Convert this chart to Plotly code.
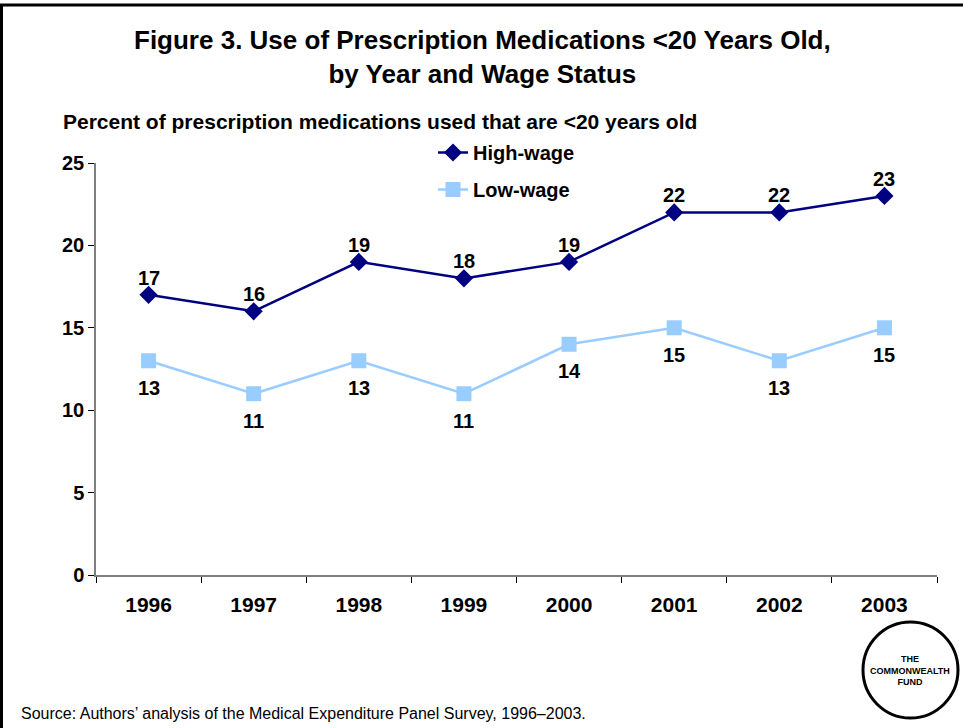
import plotly.graph_objects as go

years = ["1996", "1997", "1998", "1999", "2000", "2001", "2002", "2003"]
high_wage = [17, 16, 19, 18, 19, 22, 22, 23]
low_wage = [13, 11, 13, 11, 14, 15, 13, 15]
y_ticks = [0, 5, 10, 15, 20, 25]

NAVY = "#000080"
LIGHT = "#99CCFF"
FONT = "Liberation Sans, Arial, sans-serif"

# plot area in pixels
L, R, T, B = 96, 937, 163, 575
PW, PH = R - L, B - T


def px(x):
    return (x - L) / PW


def py(y):
    return (B - y) / PH


fig = go.Figure()

fig.add_trace(go.Scatter(
    x=years, y=high_wage, name="High-wage", legendgroup="h",
    mode="lines+markers",
    line=dict(color=NAVY, width=2.5),
    marker=dict(symbol="diamond", size=14, color=NAVY),
    cliponaxis=False,
))
fig.add_trace(go.Scatter(
    x=years, y=low_wage, name="Low-wage", legendgroup="l",
    mode="lines+markers",
    line=dict(color=LIGHT, width=2.5),
    marker=dict(symbol="square", size=15, color=LIGHT),
    cliponaxis=False,
))

# value labels: above the high-wage points, below the low-wage points
label_font = dict(family=FONT, size=20, color="black", weight="bold")
for i, v in enumerate(high_wage):
    fig.add_annotation(xref="x", yref="y", x=i, y=v, text=str(v), showarrow=False,
                       yshift=17, font=label_font, xanchor="center", yanchor="middle")
for i, v in enumerate(low_wage):
    fig.add_annotation(xref="x", yref="y", x=i, y=v, text=str(v), showarrow=False,
                       yshift=-27, font=label_font, xanchor="center", yanchor="middle")

fig.update_xaxes(
    type="category", tickson="boundaries", ticks="outside", ticklen=6,
    tickcolor="black", showline=True, linecolor="#808080", linewidth=1.5,
    showgrid=False, ticklabelstandoff=10,
    tickfont=dict(family=FONT, size=21, color="black", weight="bold"),
    range=[-0.5, 7.5],
)
fig.update_yaxes(
    range=[0, 25], tickvals=y_ticks, ticks="outside", ticklen=6,
    tickcolor="black", showline=True, linecolor="#808080", linewidth=1.5,
    showgrid=False, zeroline=False,
    tickfont=dict(family=FONT, size=20, color="black", weight="bold"),
)

# Logo circle
fig.add_shape(type="circle", xref="paper", yref="paper",
              x0=px(863), x1=px(958), y0=py(718), y1=py(622),
              line=dict(color="black", width=3))

# Left and top frame lines
fig.add_shape(type="line", xref="paper", yref="paper",
              x0=px(1.5), x1=px(1.5), y0=py(728), y1=py(5),
              line=dict(color="black", width=3))
fig.add_shape(type="line", xref="paper", yref="paper",
              x0=px(0), x1=px(963), y0=py(5), y1=py(5),
              line=dict(color="black", width=3))

annos = [
    dict(text="<b>Figure 3. Use of Prescription Medications &lt;20 Years Old,<br>by Year and Wage Status</b>",
         x=px(482), y=py(57), font=dict(family=FONT, size=26, color="black"),
         xanchor="center", yanchor="middle"),
    dict(text="<b>Percent of prescription medications used that are &lt;20 years old</b>",
         x=px(61), y=py(122), font=dict(family=FONT, size=21, color="black"),
         xanchor="left", yanchor="middle"),
    dict(text="Source: Authors\u2019 analysis of the Medical Expenditure Panel Survey, 1996\u20132003.",
         x=px(19), y=py(713), font=dict(family=FONT, size=16, color="black"),
         xanchor="left", yanchor="middle"),
    dict(text="<b>THE<br>COMMONWEALTH<br>FUND</b>",
         x=px(910), y=py(670), font=dict(family=FONT, size=9, color="black"),
         xanchor="center", yanchor="middle"),
]
for a in annos:
    fig.add_annotation(xref="paper", yref="paper", showarrow=False, **a)

fig.update_layout(
    width=963, height=728,
    margin=dict(l=L, r=963 - R, t=T, b=728 - B),
    paper_bgcolor="white", plot_bgcolor="white",
    font=dict(family=FONT, color="black"),
    legend=dict(x=px(433), y=py(133), xanchor="left", yanchor="top",
                traceorder="grouped", tracegroupgap=8,
                font=dict(family=FONT, size=20, color="black", weight="bold"),
                bgcolor="rgba(0,0,0,0)"),
    showlegend=True,
)

fig.write_html("out.html")
